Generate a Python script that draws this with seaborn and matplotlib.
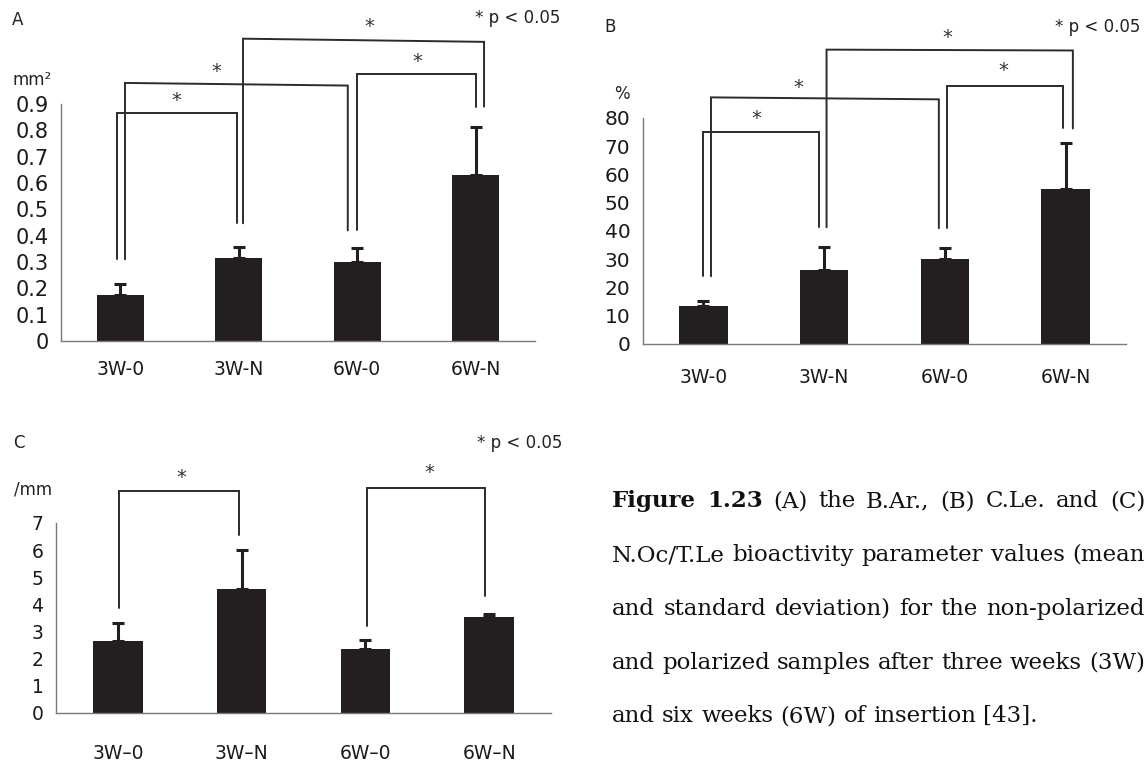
import numpy as np
import pandas as pd
import matplotlib
matplotlib.use("Agg")
import matplotlib.pyplot as plt
import seaborn as sns

sns.set_style("white")
plt.rcParams["font.family"] = ["DejaVu Sans"]

W_PX, H_PX = 1148, 762

# ---- data -------------------------------------------------------------
groups_ab = ["3W-0", "3W-N", "6W-0", "6W-N"]
groups_c = ["3W\u20130", "3W\u2013N", "6W\u20130", "6W\u2013N"]

bar_area_mean = [0.175, 0.315, 0.300, 0.630]      # B.Ar. (mm²)
bar_area_sd = [0.041, 0.041, 0.052, 0.182]
contact_len_mean = [13.4, 26.1, 30.0, 54.8]       # C.Le. (%)
contact_len_sd = [1.8, 8.2, 3.9, 16.2]
osteocyte_mean = [2.67, 4.56, 2.36, 3.54]         # N.Oc/T.Le (/mm)
osteocyte_sd = [0.66, 1.43, 0.33, 0.09]

ticks_a = [0, 0.1, 0.2, 0.3, 0.4, 0.5, 0.6, 0.7, 0.8, 0.9]
ticklabels_a = ["0", "0.1", "0.2", "0.3", "0.4", "0.5", "0.6", "0.7", "0.8", "0.9"]
ticks_b = [0, 10, 20, 30, 40, 50, 60, 70, 80]
ticks_c = [0, 1, 2, 3, 4, 5, 6, 7]

# significance brackets: (x_left, x_right, y_left_end, y_right_end, y_top_left, y_top_right, x_star, y_star)
brackets_a = [
    (-0.03, 0.985, 0.31, 0.447, 0.864, 0.864, 0.47, 0.913),
    (0.04, 1.92, 0.31, 0.42, 0.980, 0.970, 0.81, 1.023),
    (1.036, 3.07, 0.447, 0.89, 1.148, 1.136, 2.10, 1.193),
    (2.00, 3.00, 0.42, 0.89, 1.015, 1.015, 2.51, 1.060),
]
brackets_b = [
    (-0.003, 0.958, 24.0, 41.3, 74.9, 74.9, 0.44, 79.9),
    (0.063, 1.95, 24.0, 41.0, 87.3, 86.6, 0.79, 90.8),
    (1.02, 3.06, 41.3, 76.3, 104.2, 103.9, 2.02, 108.5),
    (2.02, 2.98, 41.0, 76.3, 91.5, 91.5, 2.48, 96.8),
]
brackets_c = [
    (0.01, 0.976, 3.87, 6.57, 8.18, 8.18, 0.51, 8.67),
    (2.01, 2.97, 3.19, 4.32, 8.29, 8.29, 2.52, 8.86),
]

caption_lines = [
    "(A) the B.Ar., (B) C.Le. and (C)",
    "N.Oc/T.Le bioactivity parameter values (mean",
    "and standard deviation) for the non-polarized",
    "and polarized samples after three weeks (3W)",
    "and six weeks (6W) of insertion [43].",
]
caption_lead = "Figure 1.23"

BAR = "#231f20"
AXIS = "#7a7a7a"
LINE = "#2b2b2b"

fig = plt.figure(figsize=(W_PX / 100, H_PX / 100), dpi=100)


def rect(l, r, t, b):
    return [l / W_PX, 1 - b / H_PX, (r - l) / W_PX, (b - t) / H_PX]


def fxy(x, y):
    return x / W_PX, 1 - y / H_PX


def panel(box, cats, mean, sd, ticks, ticklabels, ymax, brackets, tick_fs, x_fs, label_pad):
    ax = fig.add_axes(rect(*box))
    df = pd.DataFrame({"group": cats, "value": mean})
    sns.barplot(data=df, x="group", y="value", color=BAR, saturation=1,
                width=0.4, ax=ax, edgecolor=BAR, linewidth=0)
    ax.errorbar(np.arange(len(cats)), mean, yerr=[np.zeros(len(sd)), sd],
                fmt="none", ecolor=BAR, elinewidth=2.2, capsize=4.5, capthick=2.2,
                zorder=3)
    ax.set_xlim(-0.5, len(cats) - 0.5)
    ax.set_ylim(0, ymax)
    ax.set_yticks(ticks)
    ax.set_yticklabels(ticklabels, fontsize=tick_fs, color="#1a1a1a")
    ax.set_xticks(np.arange(len(cats)))
    ax.set_xticklabels(cats, fontsize=x_fs, color="#1a1a1a")
    ax.set_xticks(np.arange(len(cats) + 1) - 0.5, minor=True)
    ax.tick_params(axis="x", which="major", length=0, pad=label_pad)
    ax.tick_params(axis="x", which="minor", length=6, width=1, color=AXIS, direction="out")
    ax.tick_params(axis="y", length=6, width=1, color=AXIS, direction="out", pad=3)
    ax.set_xlabel("")
    ax.set_ylabel("")
    for s in ("top", "right"):
        ax.spines[s].set_visible(False)
    for s in ("left", "bottom"):
        ax.spines[s].set_color(AXIS)
        ax.spines[s].set_linewidth(1)
    ax.patch.set_alpha(0)
    for xl, xr, yl, yr, tl, tr, xs, ys in brackets:
        ax.plot([xl, xl, xr, xr], [yl, tl, tr, yr], color=LINE, lw=1.4,
                clip_on=False, solid_joinstyle="miter", zorder=4)
        ax.text(xs, ys, "*", ha="center", va="center", fontsize=14,
                color="#333333", clip_on=False)
    return ax


ax_a = panel((61, 535, 104, 341), groups_ab, bar_area_mean, bar_area_sd,
             ticks_a, ticklabels_a, 0.9, brackets_a, 15, 13.5, 14)
ax_b = panel((643, 1126, 118, 344), groups_ab, contact_len_mean, contact_len_sd,
             ticks_b, [str(t) for t in ticks_b], 80, brackets_b, 14.5, 13.5, 17)
ax_c = panel((56, 551, 523, 713), groups_c, osteocyte_mean, osteocyte_sd,
             ticks_c, [str(t) for t in ticks_c], 7, brackets_c, 13.5, 13.5, 22)

# panel letters, units and significance key
txt = dict(color="#222222", va="center")
fig.text(*fxy(12, 20), "A", fontsize=12, ha="left", **txt)
fig.text(*fxy(604, 27), "B", fontsize=12, ha="left", **txt)
fig.text(*fxy(13, 443), "C", fontsize=12, ha="left", **txt)
fig.text(*fxy(12, 80), "mm²", fontsize=12, ha="left", **txt)
fig.text(*fxy(614, 94), "%", fontsize=12, ha="left", **txt)
fig.text(*fxy(14, 490), "/mm", fontsize=12, ha="left", **txt)
for x, y in [(560, 18), (1140, 27), (562, 443)]:
    fig.text(*fxy(x, y), "* p < 0.05", fontsize=12, ha="right", **txt)

# justified caption block
cap_left, cap_right = 612, 1145
line_y = [501, 555, 609, 663, 716]
cap_fs = 16.5
serif = ["DejaVu Serif"]
renderer = fig.canvas.get_renderer()


def word_width(t):
    return t.get_window_extent(renderer=renderer).width


for i, (line, y) in enumerate(zip(caption_lines, line_y)):
    words = line.split(" ")
    items = []
    if i == 0:
        items += [(w, "bold") for w in caption_lead.split(" ")]
    items += [(w, "normal") for w in words]
    objs = []
    for w, weight in items:
        t = fig.text(0, 1 - y / H_PX, w, fontsize=cap_fs, family=serif,
                     fontweight=weight, ha="left", va="center", color="#111111")
        objs.append(t)
    widths = [word_width(t) for t in objs]
    if i < len(caption_lines) - 1:
        gap = (cap_right - cap_left - sum(widths)) / (len(objs) - 1)
    else:
        sp = fig.text(0, 0, "a a", fontsize=cap_fs, family=serif)
        sp2 = fig.text(0, 0, "aa", fontsize=cap_fs, family=serif)
        gap = word_width(sp) - word_width(sp2)
        sp.remove()
        sp2.remove()
    x = cap_left
    for t, w in zip(objs, widths):
        t.set_x(x / W_PX)
        x += w + gap

fig.savefig("out.png", dpi=100, facecolor="white")
